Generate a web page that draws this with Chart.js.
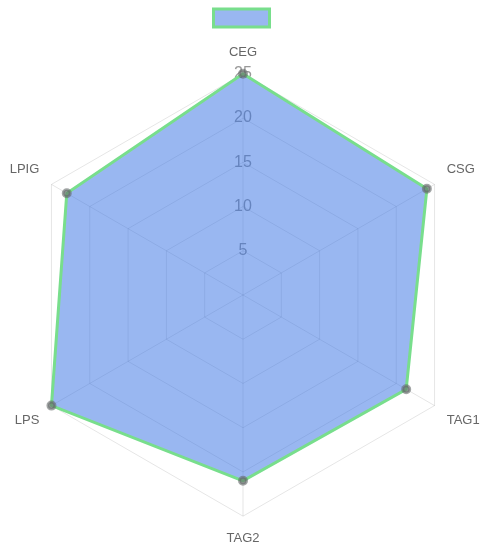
<!DOCTYPE html>
<html>
<head>
<meta charset="utf-8">
<script src="https://cdn.jsdelivr.net/npm/chart.js@4/dist/chart.umd.min.js"></script>
<style>
html,body{margin:0;padding:0;background:#fff;}
#wrap{width:483px;height:548px;}
</style>
</head>
<body>
<div id="wrap"><canvas id="c" width="483" height="548"></canvas></div>
<script>
const categories = ['CEG', 'CSG', 'TAG1', 'TAG2', 'LPS', 'LPIG'];
const seriesValues = [25, 24, 21.3, 21, 25, 23];
const tickValues = [5, 10, 15, 20, 25];

const legendShift = {
  id: 'legendShift',
  afterLayout(chart) {
    const lg = chart.legend;
    if (!lg) return;
    const dx = -7, dy = -6;
    lg.left += dx; lg.right += dx; lg.top += dy; lg.bottom += dy;
  }
};

new Chart(document.getElementById('c'), {
  type: 'radar',
  data: {
    labels: categories,
    datasets: [{
      label: '',
      data: seriesValues,
      backgroundColor: 'rgba(52,112,228,0.5)',
      borderColor: 'rgba(120,222,140,1)',
      borderWidth: 3,
      pointBackgroundColor: 'rgba(100,105,105,0.6)',
      pointBorderColor: 'rgba(100,105,105,0.6)',
      pointRadius: 3.5,
      fill: true
    }]
  },
  plugins: [legendShift],
  options: {
    responsive: false,
    animation: false,
    layout: { padding: { top: 7, bottom: -14, left: 7, right: -13 } },
    plugins: {
      legend: {
        display: true,
        position: 'top',
        labels: { boxWidth: 56, boxHeight: 18, padding: 8, font: { size: 12 } }
      },
      tooltip: { enabled: false }
    },
    scales: {
      r: {
        min: 0,
        max: tickValues[tickValues.length - 1],
        beginAtZero: true,
        afterBuildTicks: (scale) => { scale.ticks = [{value: 0}].concat(tickValues.map(v => ({ value: v }))); },
        ticks: {
          stepSize: 5,
          color: '#999',
          font: { size: 16, family: 'Liberation Sans, Arial, sans-serif' },
          showLabelBackdrop: false
        },
        grid: { color: 'rgba(0,0,0,0.1)', circular: false },
        angleLines: { color: 'rgba(0,0,0,0.1)' },
        pointLabels: {
          color: '#666',
          font: { size: 13, family: 'Liberation Sans, Arial, sans-serif' },
          padding: 4
        }
      }
    }
  }
});
</script>
</body>
</html>
